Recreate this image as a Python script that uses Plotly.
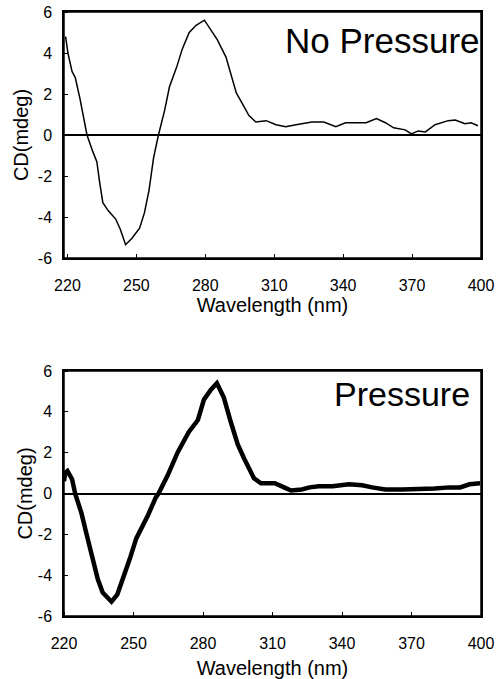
import plotly.graph_objects as go

# ---- data ----
wl_no_pressure = [219.2, 220.2, 222.0, 223.4, 225.4, 228.5, 231.0, 232.8, 234.0, 235.4,
                  237.8, 241.0, 243.0, 245.3, 248.0, 251.4, 253.5, 255.5, 257.5, 259.6,
                  262.3, 264.4, 267.5, 270.0, 273.0, 276.0, 279.6, 281.8, 285.2, 289.0,
                  291.3, 293.5, 296.0, 299.0, 302.0, 306.5, 310.8, 315.0, 319.5, 323.5,
                  326.4, 331.6, 336.8, 341.0, 346.7, 350.0, 354.5, 358.4, 362.0, 367.0,
                  369.7, 372.7, 375.8, 380.0, 385.7, 388.8, 393.0, 395.7, 398.7]
cd_no_pressure = [4.8, 4.0, 3.1, 2.8, 1.8, 0.0, -0.8, -1.3, -2.3, -3.3,
                  -3.7, -4.1, -4.6, -5.35, -5.05, -4.55, -3.8, -2.7, -1.1, 0.0,
                  1.2, 2.35, 3.3, 4.2, 5.0, 5.35, 5.6, 5.2, 4.65, 3.8,
                  2.9, 2.05, 1.55, 0.95, 0.63, 0.7, 0.5, 0.4, 0.5, 0.58,
                  0.63, 0.63, 0.4, 0.6, 0.6, 0.6, 0.8, 0.6, 0.35, 0.25,
                  0.05, 0.2, 0.15, 0.5, 0.7, 0.73, 0.55, 0.6, 0.45]

wl_pressure = [220.0, 220.5, 221.5, 223.5, 224.8, 227.5, 230.2, 232.4, 234.6, 236.7,
               238.6, 240.5, 243.0, 245.4, 248.4, 251.2, 253.5, 256.3, 259.6, 260.8,
               264.8, 269.0, 273.8, 277.8, 280.4, 283.5, 286.0, 289.0, 292.0, 295.0,
               297.8, 300.5, 302.0, 305.0, 311.0, 315.0, 318.0, 322.6, 326.0, 330.0,
               336.0, 343.0, 348.7, 353.0, 358.7, 366.0, 373.5, 380.0, 386.5, 391.0,
               395.0, 399.6]
cd_pressure = [0.6, 1.0, 1.1, 0.7, 0.0, -0.95, -2.2, -3.3, -4.2, -4.85,
               -5.1, -5.3, -4.95, -4.2, -3.2, -2.2, -1.7, -1.05, -0.2, 0.0,
               0.9, 2.0, 3.0, 3.6, 4.6, 5.1, 5.4, 4.7, 3.5, 2.4,
               1.7, 1.15, 0.75, 0.5, 0.5, 0.3, 0.15, 0.2, 0.3, 0.35,
               0.35, 0.45, 0.4, 0.3, 0.2, 0.2, 0.2, 0.25, 0.3, 0.3,
               0.45, 0.5]

x_tick_vals = [220, 250, 280, 310, 340, 370, 400]
x_tick_labels = ["220", "250", "280", "310", "340", "370", "400"]
y_tick_vals = [-6, -4, -2, 0, 2, 4, 6]
y_tick_labels = ["-6", "-4", "-2", "0", "2", "4", "6"]
panel_labels = ["No Pressure", "Pressure"]
x_title = "Wavelength (nm)"
y_title = "CD(mdeg)"

FONT = "Liberation Sans, Arial, Helvetica, sans-serif"
INVIS = "rgba(0,0,0,0)"

fig = go.Figure()
fig.add_trace(go.Scatter(x=wl_no_pressure, y=cd_no_pressure, mode="lines",
                         line=dict(color="black", width=1.5), xaxis="x", yaxis="y",
                         showlegend=False, hoverinfo="skip"))
fig.add_trace(go.Scatter(x=wl_pressure, y=cd_pressure, mode="lines",
                         line=dict(color="black", width=4.5), xaxis="x2", yaxis="y2",
                         showlegend=False, hoverinfo="skip"))

H = 679
mt, mb = 12, 63
plot_h = H - mt - mb
top_dom = [(616 - 258) / plot_h, 1.0]
bot_dom = [0.0, (616 - 371) / plot_h]

# major ticks are invisible spacers (push labels away); visible ticks are inside minor ticks
common_x = dict(showline=True, linecolor="black", linewidth=1.5, mirror=True,
                ticks="outside", ticklen=12, tickcolor=INVIS,
                minor=dict(ticks="inside", tickmode="array", tickvals=x_tick_vals,
                           ticklen=4, tickcolor="black", tickwidth=1.2, showgrid=False),
                showgrid=False, automargin=False,
                zeroline=False, tickvals=x_tick_vals, ticktext=x_tick_labels,
                tickfont=dict(size=16, color="black", family=FONT))
common_y = dict(showline=True, linecolor="black", linewidth=1.5, mirror=True,
                ticks="outside", ticklen=7, tickcolor=INVIS,
                minor=dict(ticks="inside", tickmode="array", tickvals=y_tick_vals,
                           ticklen=4, tickcolor="black", tickwidth=1.2, showgrid=False),
                showgrid=False, automargin=False,
                zeroline=True, zerolinecolor="black", zerolinewidth=1.5,
                tickvals=y_tick_vals, ticktext=y_tick_labels, range=[-6, 6],
                tickfont=dict(size=16, color="black", family=FONT))

fig.update_layout(
    template="none",
    width=504, height=H,
    margin=dict(l=64, r=23, t=mt, b=mb, autoexpand=False),
    paper_bgcolor="white", plot_bgcolor="white",
    font=dict(family=FONT, color="black"),
    xaxis=dict(domain=[0, 1], anchor="y", range=[218.5, 400],
               title=dict(text=x_title, font=dict(size=20), standoff=0), **common_x),
    yaxis=dict(domain=top_dom, anchor="x",
               title=dict(text=y_title, font=dict(size=20), standoff=4), **common_y),
    xaxis2=dict(domain=[0, 1], anchor="y2", range=[220, 400],
                title=dict(text=x_title, font=dict(size=20), standoff=15), **common_x),
    yaxis2=dict(domain=bot_dom, anchor="x2",
                title=dict(text=y_title, font=dict(size=20), standoff=0), **common_y),
)

# plot frames (drawn in axis-domain units so they coincide with the axis box)
for xr, yr in (("x domain", "y domain"), ("x2 domain", "y2 domain")):
    fig.add_shape(type="rect", xref=xr, yref=yr, x0=0, x1=1, y0=0, y1=1,
                  line=dict(color="black", width=1.5), fillcolor=INVIS, layer="above")

fig.add_annotation(text=panel_labels[0], xref="x domain", yref="y domain",
                   x=1, y=1, xanchor="right", yanchor="middle", xshift=1, yshift=-28,
                   showarrow=False, font=dict(size=35, color="black", family=FONT))
fig.add_annotation(text=panel_labels[1], xref="x2 domain", yref="y2 domain",
                   x=1, y=1, xanchor="right", yanchor="middle", xshift=-9, yshift=-23,
                   showarrow=False, font=dict(size=34, color="black", family=FONT))

fig.write_html("out.html", config={"displayModeBar": False},
               post_script="document.body.style.margin='0';document.body.style.padding='0';")
